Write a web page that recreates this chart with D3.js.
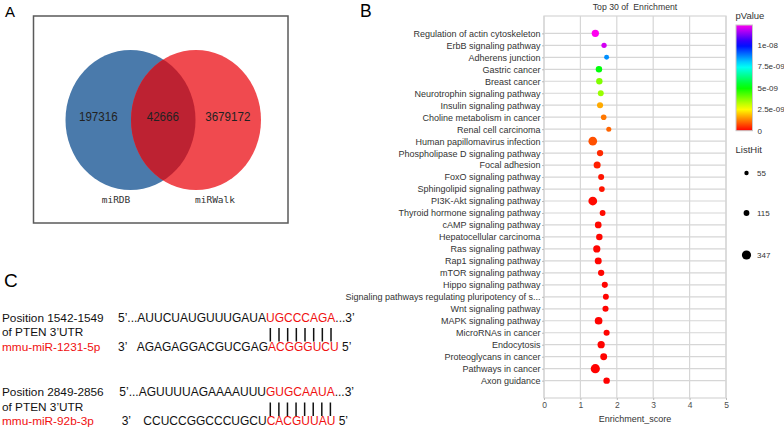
<!DOCTYPE html>
<html>
<head>
<meta charset="utf-8">
<script src="https://cdn.jsdelivr.net/npm/d3@7"></script>
<style>
  body { margin: 0; background: #fff; }
  svg { display: block; }
  text { white-space: pre; }
</style>
</head>
<body>
<div id="chart"></div>
<script>
// ---- Panel A: Venn counts
const vennSets = ["miRDB", "miRWalk"];
const vennCounts = [197316, 42666, 3679172];

// ---- Panel B: KEGG enrichment, top 30
const terms = [
    "Regulation of actin cytoskeleton", "ErbB signaling pathway", "Adherens junction",
    "Gastric cancer", "Breast cancer", "Neurotrophin signaling pathway",
    "Insulin signaling pathway", "Choline metabolism in cancer", "Renal cell carcinoma",
    "Human papillomavirus infection", "Phospholipase D signaling pathway", "Focal adhesion",
    "FoxO signaling pathway", "Sphingolipid signaling pathway", "PI3K-Akt signaling pathway",
    "Thyroid hormone signaling pathway", "cAMP signaling pathway", "Hepatocellular carcinoma",
    "Ras signaling pathway", "Rap1 signaling pathway", "mTOR signaling pathway",
    "Hippo signaling pathway", "Signaling pathways regulating pluripotency of s...",
    "Wnt signaling pathway", "MAPK signaling pathway", "MicroRNAs in cancer",
    "Endocytosis", "Proteoglycans in cancer", "Pathways in cancer", "Axon guidance"
];
const enrichScores = [
    1.41, 1.65, 1.72, 1.51, 1.52, 1.56, 1.54, 1.64, 1.78, 1.34,
    1.54, 1.46, 1.57, 1.59, 1.34, 1.61, 1.49, 1.52, 1.45, 1.49,
    1.57, 1.67, 1.70, 1.69, 1.50, 1.72, 1.57, 1.64, 1.41, 1.72
];
const pValues = [
    1.23e-8, 1.19e-8, 8.6e-9, 5.1e-9, 3.75e-9, 3.5e-9, 1.67e-9, 1.18e-9, 0.98e-9, 0.78e-9,
    0.4e-9, 0.3e-9, 0.2e-9, 0.2e-9, 0.1e-9, 0.1e-9, 0.08e-9, 0.06e-9, 0.05e-9, 0.05e-9,
    0.05e-9, 0.04e-9, 0.04e-9, 0.04e-9, 0.03e-9, 0.03e-9, 0.03e-9, 0.02e-9, 0.01e-9, 0.01e-9
];
const listHits = [
    200, 90, 75, 150, 145, 120, 130, 105, 80, 300,
    140, 185, 125, 110, 310, 115, 165, 150, 195, 180,
    140, 130, 120, 130, 230, 130, 200, 175, 347, 150
];
const xTicks = [0, 1, 2, 3, 4, 5];
const pTicks = [0, 2.5e-9, 5e-9, 7.5e-9, 1e-8];
const pTickLabels = ["0", "2.5e-09", "5e-09", "7.5e-09", "1e-08"];
const pMax = 1.23e-8;
const sizeBreaks = [55, 115, 347];

// ---- Panel C: binding sites
const siteLabels = [
    ["Position 1542-1549", "of PTEN 3\u2019UTR", "mmu-miR-1231-5p"],
    ["Position 2849-2856", "of PTEN 3\u2019UTR", "mmu-miR-92b-3p"]
];
const utrSeqs = [
    ["5\u2019...AUUCUAUGUUUGAUA", "UGCCCAGA", "...3\u2019"],
    ["5\u2019...AGUUUUAGAAAAUUU", "GUGCAAUA", "...3\u2019"]
];
const mirSeqs = [
    ["AGAGAGGACGUCGAG", "ACGGGUCU"],
    ["CCUCCGGCCCUGCU", "CACGUUAU"]
];

const W = 784, H = 429;
const sans = "'Liberation Sans', Arial, sans-serif";

const svg = d3.select("#chart").append("svg")
    .attr("width", W)
    .attr("height", H);
const defs = svg.append("defs");

// panel letters
svg.append("text").attr("x", 5).attr("y", 17).style("font-family", sans).style("font-size", "15px").text("A");
svg.append("text").attr("x", 360).attr("y", 17).style("font-family", sans).style("font-size", "17.5px").text("B");
svg.append("text").attr("x", 4).attr("y", 287).style("font-family", sans).style("font-size", "19px").text("C");

// ================= Panel A =================
const venn = svg.append("g");
venn.append("rect")
    .attr("x", 33.5).attr("y", 16)
    .attr("width", 254.5).attr("height", 207)
    .attr("fill", "none")
    .attr("stroke", "#5a5a5a")
    .attr("stroke-width", 1.5);

const circles = [{ cx: 130.5, cy: 120 }, { cx: 196, cy: 120 }];
const rx = 65, ry = 70;

defs.append("clipPath").attr("id", "clipBlue")
    .append("ellipse")
    .attr("cx", circles[0].cx).attr("cy", circles[0].cy)
    .attr("rx", rx).attr("ry", ry);

venn.append("ellipse")
    .attr("cx", circles[0].cx).attr("cy", circles[0].cy)
    .attr("rx", rx).attr("ry", ry)
    .attr("fill", "#4a7aab");
venn.append("ellipse")
    .attr("cx", circles[1].cx).attr("cy", circles[1].cy)
    .attr("rx", rx).attr("ry", ry)
    .attr("fill", "#f04a4f");
venn.append("ellipse")
    .attr("clip-path", "url(#clipBlue)")
    .attr("cx", circles[1].cx).attr("cy", circles[1].cy)
    .attr("rx", rx).attr("ry", ry)
    .attr("fill", "#bd2232");

// narrow-looking digits: squeeze Liberation Sans horizontally
const countX = [98.3, 162.8, 227.8];
venn.selectAll(".venn-count")
    .data(vennCounts)
    .join("text")
    .attr("class", "venn-count")
    .attr("transform", (d, i) => `translate(${countX[i]},121) scale(0.86,1)`)
    .attr("text-anchor", "middle")
    .style("font-family", sans)
    .style("font-size", "13.5px")
    .attr("fill", "#222")
    .text(d => d);

const setX = [116, 215];
venn.selectAll(".venn-set")
    .data(vennSets)
    .join("text")
    .attr("class", "venn-set")
    .attr("x", (d, i) => setX[i])
    .attr("y", 203)
    .attr("text-anchor", "middle")
    .style("font-family", "'DejaVu Sans Mono', monospace")
    .style("font-size", "9.5px")
    .attr("fill", "#333")
    .text(d => d);

// ================= Panel B =================
const data = terms.map((t, i) => ({
    term: t, score: enrichScores[i], p: pValues[i], hit: listHits[i]
}));

const plot = { left: 544, right: 726, top: 16, bottom: 398 };

const x = d3.scaleLinear().domain([0, 5]).range([plot.left, plot.right]);
const y = d3.scalePoint().domain(terms).range([plot.top, plot.bottom]).padding(1.45);
const color = d3.scaleLinear()
    .domain([0, 2.5e-9, 5e-9, 7.5e-9, 1e-8, pMax])
    .range(["#ff0000", "#ffff00", "#00ff00", "#00ffff", "#0000ff", "#ff00f0"]);
const size = d3.scaleSqrt().domain([55, 347]).range([2.2, 4.6]);

const gridColor = "#d6d6d6";
const chart = svg.append("g");

chart.append("rect")
    .attr("x", plot.left).attr("y", plot.top)
    .attr("width", plot.right - plot.left).attr("height", plot.bottom - plot.top)
    .attr("fill", "#fff");

chart.selectAll(".hgrid")
    .data(terms)
    .join("line")
    .attr("class", "hgrid")
    .attr("x1", plot.left).attr("x2", plot.right)
    .attr("y1", d => y(d)).attr("y2", d => y(d))
    .attr("stroke", gridColor).attr("stroke-width", 1.2);

chart.selectAll(".vgrid")
    .data(xTicks)
    .join("line")
    .attr("class", "vgrid")
    .attr("x1", d => x(d)).attr("x2", d => x(d))
    .attr("y1", plot.top).attr("y2", plot.bottom)
    .attr("stroke", gridColor).attr("stroke-width", 1.2);

chart.append("rect")
    .attr("x", plot.left).attr("y", plot.top)
    .attr("width", plot.right - plot.left).attr("height", plot.bottom - plot.top)
    .attr("fill", "none")
    .attr("stroke", gridColor).attr("stroke-width", 1.2);

const yAxis = chart.append("g")
    .attr("transform", `translate(${plot.left},0)`)
    .call(d3.axisLeft(y).tickSize(2).tickPadding(1.5));
yAxis.select(".domain").remove();
yAxis.selectAll(".tick line").attr("stroke", "#bbb");
yAxis.selectAll(".tick text")
    .style("font-family", sans)
    .style("font-size", "9px")
    .attr("fill", "#333");

const xAxis = chart.append("g")
    .attr("transform", `translate(0,${plot.bottom})`)
    .call(d3.axisBottom(x).tickValues(xTicks).tickFormat(d3.format("d")).tickSize(2).tickPadding(2));
xAxis.select(".domain").remove();
xAxis.selectAll(".tick line").attr("stroke", "#bbb");
xAxis.selectAll(".tick text")
    .style("font-family", sans)
    .style("font-size", "8.5px")
    .attr("fill", "#4d4d4d");

chart.append("text")
    .attr("x", (plot.left + plot.right) / 2)
    .attr("y", 422)
    .attr("text-anchor", "middle")
    .style("font-family", sans)
    .style("font-size", "9px")
    .attr("fill", "#333")
    .text("Enrichment_score");

chart.append("text")
    .attr("x", (plot.left + plot.right) / 2)
    .attr("y", 10)
    .attr("text-anchor", "middle")
    .style("font-family", sans)
    .style("font-size", "8.7px")
    .attr("fill", "#333")
    .text("Top 30 of  Enrichment");

chart.selectAll(".dot")
    .data(data)
    .join("circle")
    .attr("class", "dot")
    .attr("cx", d => x(d.score))
    .attr("cy", d => y(d.term))
    .attr("r", d => size(d.hit))
    .attr("fill", d => color(d.p));

// ---- legends
const legend = svg.append("g");
const barX = 736, barW = 16.5;
const pScale = d3.scaleLinear().domain([0, pMax]).range([130.7, 25]);

legend.append("text")
    .attr("x", 735.5).attr("y", 18.5)
    .style("font-family", sans).style("font-size", "9.5px").attr("fill", "#333")
    .text("pValue");

const grad = defs.append("linearGradient")
    .attr("id", "pGrad")
    .attr("x1", 0).attr("y1", 1).attr("x2", 0).attr("y2", 0);
d3.range(0, 1.0001, 0.05).forEach(t => {
    grad.append("stop")
        .attr("offset", t)
        .attr("stop-color", color(t * pMax));
});

legend.append("rect")
    .attr("x", barX).attr("y", pScale(pMax))
    .attr("width", barW).attr("height", pScale(0) - pScale(pMax))
    .attr("fill", "url(#pGrad)")
    .attr("stroke", "#c8c8c8").attr("stroke-width", 1);

legend.selectAll(".p-label")
    .data(pTicks)
    .join("text")
    .attr("class", "p-label")
    .attr("x", 757.5)
    .attr("y", d => pScale(d) + 3)
    .style("font-family", sans).style("font-size", "8px").attr("fill", "#333")
    .text((d, i) => pTickLabels[i]);

legend.append("text")
    .attr("x", 735.5).attr("y", 152.5)
    .style("font-family", sans).style("font-size", "9.5px").attr("fill", "#333")
    .text("ListHit");

const sizeY = [173, 213, 255];
legend.selectAll(".size-dot")
    .data(sizeBreaks)
    .join("circle")
    .attr("class", "size-dot")
    .attr("cx", 746.5)
    .attr("cy", (d, i) => sizeY[i])
    .attr("r", d => size(d))
    .attr("fill", "#000");

legend.selectAll(".size-label")
    .data(sizeBreaks)
    .join("text")
    .attr("class", "size-label")
    .attr("x", 757)
    .attr("y", (d, i) => sizeY[i] + 3)
    .style("font-family", sans).style("font-size", "8px").attr("fill", "#333")
    .text(d => d);

// ================= Panel C =================
const red = "#f01010";
const seqFont = 12;
const siteTop = [321.5, 396];
const redStartTop = [266, 266];
const redStartBottom = [268, 266.7];
const mirPrefixX = [118, 121.7];

siteLabels.forEach((lines, s) => {
    const g = svg.append("g");
    const base = siteTop[s];
    const lineYs = [base, base + 14.5, base + 29];

    g.selectAll(".site-label")
        .data(lines)
        .join("text")
        .attr("class", "site-label")
        .attr("x", 2)
        .attr("y", (d, i) => lineYs[i])
        .style("font-family", sans)
        .style("font-size", "11.8px")
        .attr("fill", (d, i) => i === 2 ? red : "#111")
        .text(d => d);

    // target (UTR) sequence
    const utr = utrSeqs[s];
    g.append("text")
        .attr("x", redStartTop[s]).attr("y", base)
        .attr("text-anchor", "end")
        .style("font-family", sans).style("font-size", seqFont + "px")
        .attr("fill", "#111")
        .text(utr[0]);
    const redTop = g.append("text")
        .attr("x", redStartTop[s]).attr("y", base)
        .style("font-family", sans).style("font-size", seqFont + "px");
    redTop.append("tspan").attr("fill", red).text(utr[1]);
    redTop.append("tspan").attr("fill", "#111").text(utr[2]);

    // miRNA sequence
    const mir = mirSeqs[s];
    const bottomY = base + 29;
    g.append("text")
        .attr("x", mirPrefixX[s]).attr("y", bottomY)
        .style("font-family", sans).style("font-size", seqFont + "px")
        .attr("fill", "#111")
        .text("3\u2019");
    g.append("text")
        .attr("x", redStartBottom[s]).attr("y", bottomY)
        .attr("text-anchor", "end")
        .style("font-family", sans).style("font-size", seqFont + "px")
        .attr("fill", "#111")
        .text(mir[0]);
    const redBottom = g.append("text")
        .attr("x", redStartBottom[s]).attr("y", bottomY)
        .style("font-family", sans).style("font-size", seqFont + "px");
    redBottom.append("tspan").attr("fill", red).text(mir[1]);
    redBottom.append("tspan").attr("fill", "#111").text(" 5\u2019");

    // base-pairing bars across the seed region
    const redW = redTop.select("tspan").node().getComputedTextLength();
    const n = utr[1].length;
    const bars = d3.range(n).map(i => redStartTop[s] + (i + 0.5) * redW / n);
    g.selectAll(".pair")
        .data(bars)
        .join("line")
        .attr("class", "pair")
        .attr("x1", d => d).attr("x2", d => d)
        .attr("y1", base + 6.5).attr("y2", base + 20)
        .attr("stroke", "#111")
        .attr("stroke-width", 1.5);
});
</script>
</body>
</html>
